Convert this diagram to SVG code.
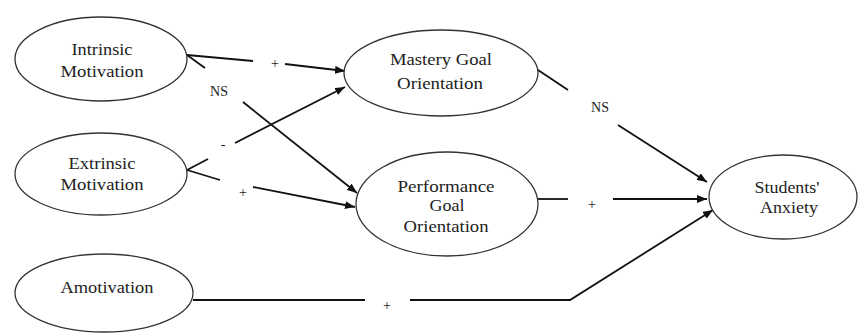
<svg xmlns="http://www.w3.org/2000/svg" width="858" height="333" viewBox="0 0 858 333">
<defs>
<marker id="arr" viewBox="0 0 10 8" refX="10" refY="4" markerWidth="10" markerHeight="8" markerUnits="userSpaceOnUse" orient="auto">
<path d="M0,0 L10,4 L0,8 Z" fill="#111"/>
</marker>
<style>
.node ellipse{fill:#fff;stroke:#333;stroke-width:1.3}
.node text{font-family:"Liberation Serif","Times New Roman",serif;font-size:17px;fill:#222;text-anchor:middle}
.conn line,.conn polyline{stroke:#111;stroke-width:1.8;fill:none}
.lbl{font-family:"Liberation Serif","Times New Roman",serif;font-size:14px;fill:#222;text-anchor:middle}
</style>
</defs>
<rect width="858" height="333" fill="#fff"/>
<g id="connectors" class="conn">
<line x1="187" y1="55" x2="253" y2="61"/>
<line x1="285" y1="64" x2="345" y2="71" marker-end="url(#arr)"/>
<line x1="187" y1="55" x2="205" y2="68"/>
<line x1="243" y1="102" x2="357" y2="193" marker-end="url(#arr)"/>
<line x1="187" y1="170" x2="208" y2="159"/>
<line x1="235" y1="143" x2="345" y2="87" marker-end="url(#arr)"/>
<line x1="187" y1="170" x2="220" y2="180"/>
<line x1="253" y1="187" x2="355" y2="207" marker-end="url(#arr)"/>
<line x1="538" y1="70" x2="568" y2="90"/>
<line x1="618" y1="125" x2="707" y2="182" marker-end="url(#arr)"/>
<line x1="538" y1="199" x2="568" y2="199"/>
<line x1="613" y1="199" x2="707" y2="199" marker-end="url(#arr)"/>
<line x1="193" y1="300" x2="365" y2="300"/>
<polyline points="410,300 570,300 713,210" marker-end="url(#arr)"/>
<text class="lbl" x="275" y="68">+</text>
<text class="lbl" x="219" y="96">NS</text>
<text class="lbl" x="223" y="149">-</text>
<text class="lbl" x="243" y="197">+</text>
<text class="lbl" x="600" y="112">NS</text>
<text class="lbl" x="592" y="209">+</text>
<text class="lbl" x="387" y="310">+</text>
</g>
<g id="intrinsic" class="node">
<ellipse cx="101" cy="59" rx="86" ry="42"/>
<text x="102" y="55" textLength="61" lengthAdjust="spacingAndGlyphs">Intrinsic</text>
<text x="102" y="77" textLength="83" lengthAdjust="spacingAndGlyphs">Motivation</text>
</g>
<g id="extrinsic" class="node">
<ellipse cx="101" cy="174" rx="86" ry="41"/>
<text x="102" y="169" textLength="67" lengthAdjust="spacingAndGlyphs">Extrinsic</text>
<text x="102" y="190" textLength="83" lengthAdjust="spacingAndGlyphs">Motivation</text>
</g>
<g id="amotivation" class="node">
<ellipse cx="104" cy="293" rx="89" ry="39"/>
<text x="107" y="293" textLength="93" lengthAdjust="spacingAndGlyphs">Amotivation</text>
</g>
<g id="mastery" class="node">
<ellipse cx="441" cy="73" rx="97" ry="43"/>
<text x="441" y="65" textLength="102" lengthAdjust="spacingAndGlyphs">Mastery Goal</text>
<text x="440" y="89" textLength="86" lengthAdjust="spacingAndGlyphs">Orientation</text>
</g>
<g id="performance" class="node">
<ellipse cx="447" cy="204" rx="91" ry="52"/>
<text x="446" y="192" textLength="97" lengthAdjust="spacingAndGlyphs">Performance</text>
<text x="447" y="211" textLength="35" lengthAdjust="spacingAndGlyphs">Goal</text>
<text x="446" y="232" textLength="85" lengthAdjust="spacingAndGlyphs">Orientation</text>
</g>
<g id="anxiety" class="node">
<ellipse cx="783" cy="197" rx="74" ry="42"/>
<text x="787" y="193" textLength="65" lengthAdjust="spacingAndGlyphs">Students'</text>
<text x="789" y="213" textLength="58" lengthAdjust="spacingAndGlyphs">Anxiety</text>
</g>
</svg>
